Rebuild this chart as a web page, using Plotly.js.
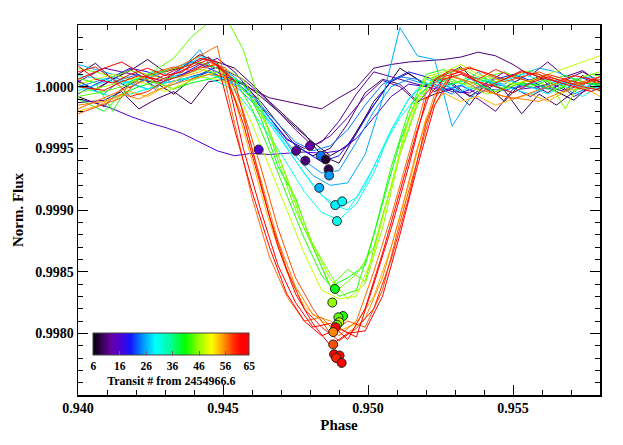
<!DOCTYPE html>
<html><head><meta charset="utf-8">
<script src="https://cdn.plot.ly/plotly-3.0.1.min.js"></script>
<style>html,body{margin:0;padding:0;background:#fff}</style>
</head><body><div id="chart" style="width:623px;height:445px"></div>
<script>
// Phase grids (two sampling grids)
const phaseA = [0.9400,0.9406,0.9412,0.9418,0.9424,0.9430,0.9436,0.9442,0.9448,0.9454,0.9460,0.9466,0.9472,0.9478,0.9484,0.9490,0.9496,0.9502,0.9508,0.9514,0.9520,0.9526,0.9532,0.9538,0.9544,0.9550,0.9556,0.9562,0.9568,0.9574,0.9580,0.9586];
const phaseB = [0.9400,0.9409,0.9415,0.9421,0.9427,0.9433,0.9439,0.9445,0.9451,0.9457,0.9463,0.9469,0.9475,0.9481,0.9487,0.9493,0.9499,0.9505,0.9511,0.9517,0.9523,0.9529,0.9535,0.9541,0.9547,0.9553,0.9559,0.9565,0.9571,0.9577,0.9583,0.9589];

// Flux deviations (parts per million from 1.0) for each transit light curve
const devT08 = [-80,-160,-20,60,30,-60,60,120,70,30,-80,-200,-330,-450,-560,-480,-250,-50,150,60,-40,30,-80,10,-120,30,80,-40,-110,20,60,-20];
const devT09 = [100,190,60,130,220,120,160,260,200,150,20,-120,-250,-380,-560,-620,-380,-120,40,110,10,90,160,20,-60,30,110,40,-30,90,20,70];
const devT10 = [-130,-110,-40,-180,-100,-40,-140,40,60,20,-120,-300,-480,-560,-500,-300,-50,60,20,-120,-60,-20,-150,40,-30,-220,-60,-150,-40,60,-90,-30];
const devT11 = [40,-20,60,140,50,30,60,100,160,50,-20,-90,-120,-150,-180,-90,-10,150,180,200,210,220,240,280,250,180,90,200,80,130,30,60];
const devT12 = [50,-30,60,-10,80,40,100,160,230,120,-50,-250,-430,-500,-450,-280,-60,120,80,40,0,70,-40,-100,-200,-20,30,-50,50,120,40,0];
const devT13 = [40,150,120,90,-10,110,200,170,130,60,-60,-200,-350,-480,-400,-250,-80,50,0,-130,20,-40,-50,30,120,-20,0,40,-80,-10,30,60];
const devT16 = [-100,-130,-180,-240,-290,-330,-380,-450,-520,-560,-540,-550,-540,-530,-540,-520,-420,-250,-80,20,0,-30,10,-60,20,-10,-80,0,-40,30,10,-20];
const devT20 = [-60,20,80,150,120,60,100,180,120,50,-80,-250,-420,-520,-610,-560,-380,-150,50,120,80,20,-50,0,60,100,50,-20,30,70,20,-10];
const devT24 = [20,-60,60,100,-30,20,80,120,60,-20,-150,-300,-450,-520,-480,-350,-150,20,80,60,0,-60,70,-20,-30,10,-20,50,-60,0,-40,10];
const devT25 = [0,40,80,30,-20,40,150,300,80,10,-120,-280,-450,-600,-700,-680,-450,-200,0,60,20,-20,10,120,0,-50,20,60,30,-10,40,0];
const devT26 = [180,120,80,40,100,150,200,240,130,20,-150,-350,-560,-720,-800,-780,-550,-100,480,250,220,-320,-100,40,20,100,150,120,60,80,30,0];
const devT29 = [-30,10,60,20,-20,40,120,250,180,60,-100,-300,-500,-700,-880,-980,-900,-650,-350,-100,60,20,-40,30,80,40,0,-60,20,-80,10,30];
const devT30 = [90,60,20,70,130,80,50,100,60,-20,-180,-380,-600,-800,-950,-1000,-800,-500,-250,-80,40,60,-20,0,50,100,60,30,-30,0,40,-60];
const devT31 = [0,-40,-80,-60,-20,30,60,90,40,-30,-200,-400,-620,-850,-1020,-1080,-950,-700,-350,-100,30,0,40,80,30,-20,-60,0,40,10,-30,0];
const devT40 = [-100,-200,-60,0,40,-20,30,60,100,20,-250,-650,-900,-1300,-1620,-1550,-1450,-950,-450,-80,60,20,80,40,-20,30,10,-40,60,20,0,40];
const devT42 = [70,30,-200,40,90,130,160,200,150,60,-180,-520,-880,-1230,-1530,-1700,-1650,-1200,-650,-200,100,140,60,20,-40,30,0,50,90,40,20,60];
const devT44 = [-80,-40,0,60,140,230,400,520,560,300,-150,-600,-1000,-1300,-1620,-1480,-1580,-1050,-550,-150,80,40,20,80,120,60,30,-20,50,100,70,40];
const devT45 = [150,120,80,130,100,60,90,140,110,40,-100,-350,-750,-1150,-1400,-1640,-1520,-1300,-800,-250,60,100,150,80,40,90,130,60,-180,80,120,90];
const devT46 = [-50,0,40,80,30,-20,50,100,140,60,-200,-550,-920,-1280,-1560,-1720,-1600,-1150,-550,-120,90,60,0,-60,-20,40,60,20,-30,0,-80,-40];
const devT48 = [20,60,100,60,20,-40,20,80,60,0,-300,-650,-1000,-1350,-1650,-1720,-1700,-1350,-800,-280,80,120,180,100,60,20,50,100,150,200,250,220];
const devT54 = [-200,-160,-100,-40,-80,0,80,120,200,-100,-600,-1100,-1500,-1780,-1900,-1980,-1920,-1700,-1300,-800,-250,-50,-120,-80,-150,-100,-60,-120,-40,0,-80,-50];
const devT56 = [-150,-120,-60,-100,-30,20,60,100,80,-250,-750,-1250,-1620,-1850,-1900,-2000,-1880,-1550,-1050,-500,-60,80,40,-30,-80,-100,-120,-60,0,40,20,-20];
const devT57 = [-180,-120,-60,0,60,120,180,250,330,-300,-900,-1380,-1700,-1900,-1870,-2020,-1900,-1500,-1050,-550,-50,100,60,-20,-60,-100,-50,0,50,30,60,20];
const devT58 = [-220,-140,-90,60,120,160,130,200,150,-200,-650,-1150,-1550,-1800,-2000,-1900,-1950,-1650,-1100,-600,-100,120,160,100,40,80,120,60,20,60,100,40];
const devT60 = [120,160,60,-80,-40,50,90,150,180,50,-500,-1050,-1480,-1800,-1950,-2060,-1960,-1800,-1400,-900,-300,80,120,60,140,80,40,100,60,20,80,50];
const devT62 = [60,150,200,120,40,100,160,220,120,-500,-1000,-1450,-1750,-1950,-1920,-2050,-1800,-1350,-850,-350,60,140,80,0,60,120,100,40,0,-40,20,60];
const devT63 = [170,60,30,100,150,90,120,230,200,-350,-850,-1300,-1680,-1900,-2020,-1960,-2030,-1600,-1150,-650,-100,60,100,40,0,-50,30,80,40,0,-30,10];
const devT65 = [0,-30,40,90,60,130,180,240,100,-300,-800,-1300,-1680,-1920,-2100,-2000,-1980,-1700,-1200,-650,-150,100,150,110,60,130,80,40,90,60,20,70];

// Transit number and sampling grid for each curve
const lineTransit = [8,9,10,11,12,13,16,20,24,25,26,29,30,31,40,42,44,45,46,48,54,56,57,58,60,62,63,65];
const lineGrid    = ['B','A','B','A','A','B','A','A','B','A','B','A','B','A','B','A','B','A','B','A','A','B','A','B','A','B','A','B'];
const lineDev     = [devT08,devT09,devT10,devT11,devT12,devT13,devT16,devT20,devT24,devT25,devT26,devT29,devT30,devT31,devT40,devT42,devT44,devT45,devT46,devT48,devT54,devT56,devT57,devT58,devT60,devT62,devT63,devT65];

// Mid-transit markers
const mkPhase   = [0.94623,0.94752,0.94800,0.94784,0.94837,0.94854,0.94864,0.94866,0.94832,0.94887,0.94911,0.94893,0.94886,0.94877,0.94914,0.94898,0.94901,0.94893,0.94888,0.94880,0.94880,0.94883,0.94902,0.94890,0.94909];
const mkFlux    = [0.99949,0.99948,0.99952,0.99940,0.99944,0.99941,0.99933,0.99928,0.99918,0.99904,0.99907,0.99891,0.99836,0.99825,0.99814,0.99813,0.99809,0.99807,0.99805,0.99801,0.99791,0.99783,0.99782,0.99780,0.99776];
const mkTransit = [16,12,13,11,24,8,9,25,26,29,30,31,40,46,42,44,48,45,62,56,58,63,64,60,65];

const cbTicks = [6,16,26,36,46,56,65];
const xTicks = [0.940,0.945,0.950,0.955];
const yTicks = [0.9980,0.9985,0.9990,0.9995,1.0000];

const cmin = 6, cmax = 65;
const cscale = [
  [0.00,'#000000'],[0.06,'#3c0058'],[0.12,'#6400a8'],[0.18,'#4a00d8'],[0.24,'#1414ff'],
  [0.32,'#0094ff'],[0.40,'#00ffff'],[0.50,'#00ff96'],[0.59,'#00ff00'],
  [0.68,'#96ff00'],[0.76,'#ffff00'],[0.83,'#ffa000'],[0.90,'#ff3000'],
  [0.95,'#ff0000'],[1.00,'#ff0000']
];
function hex2rgb(h){return [parseInt(h.substr(1,2),16),parseInt(h.substr(3,2),16),parseInt(h.substr(5,2),16)];}
function colorFor(v){
  let f=(v-cmin)/(cmax-cmin); f=Math.max(0,Math.min(1,f));
  for(let i=1;i<cscale.length;i++){
    if(f<=cscale[i][0]){
      const a=cscale[i-1],b=cscale[i];
      const t=(f-a[0])/(b[0]-a[0]||1);
      const ca=hex2rgb(a[1]),cb=hex2rgb(b[1]);
      const c=ca.map((x,k)=>Math.round(x+(cb[k]-x)*t));
      return 'rgb('+c.join(',')+')';
    }
  }
  return cscale[cscale.length-1][1];
}

const FONT = 'Liberation Serif, Times New Roman, serif';
const traces = [];
for(let i=0;i<lineTransit.length;i++){
  const xs = lineGrid[i]==='A'?phaseA:phaseB;
  traces.push({
    type:'scatter', mode:'lines', x:xs, y:lineDev[i].map(d=>1+d*1e-6),
    line:{color:colorFor(lineTransit[i]), width:1}, hoverinfo:'skip', showlegend:false
  });
}
traces.push({
  type:'scatter', mode:'markers', x:mkPhase, y:mkFlux, showlegend:false,
  marker:{size:9, color:mkTransit, colorscale:cscale, cmin:cmin, cmax:cmax,
    line:{color:'#222', width:1}, showscale:true,
    colorbar:{orientation:'h', x:0.0293, xanchor:'left', y:0.1668, yanchor:'top',
      len:0.2994, lenmode:'fraction', thickness:22, thicknessmode:'pixels',
      xpad:0, ypad:0, outlinewidth:1, outlinecolor:'#444',
      tickmode:'array', tickvals:cbTicks, ticktext:cbTicks.map(String),
      ticks:'inside', ticklen:4, tickcolor:'#666',
      tickfont:{family:FONT, size:11.5, weight:'bold', color:'#000'},
      title:{text:'Transit # from 2454966.6', side:'bottom', font:{family:FONT, size:12, weight:'bold', color:'#000'}}
    }
  }
});

const layout = {
  width:623, height:445,
  margin:{l:78, r:23, t:25, b:50},
  paper_bgcolor:'#fff', plot_bgcolor:'#fff',
  font:{family:FONT, size:14, weight:'bold', color:'#000'},
  xaxis:{range:[0.940,0.958], tickmode:'array', tickvals:xTicks, ticktext:xTicks.map(v=>v.toFixed(3)),
    ticks:'inside', ticklen:10, tickwidth:1, tickcolor:'#000', mirror:'allticks',
    showline:true, linecolor:'#000', linewidth:1.5, showgrid:false, zeroline:false,
    minor:{dtick:0.001, tick0:0.940, ticks:'inside', ticklen:5, tickwidth:1, tickcolor:'#000'},
    tickfont:{family:FONT, size:14, weight:'bold'},
    title:{text:'Phase', font:{family:FONT, size:15, weight:'bold'}, standoff:4}},
  yaxis:{range:[0.9975,1.0005], tickmode:'array', tickvals:yTicks, ticktext:yTicks.map(v=>v.toFixed(4)),
    ticks:'inside', ticklen:10, tickwidth:1, tickcolor:'#000', mirror:'allticks',
    showline:true, linecolor:'#000', linewidth:1.5, showgrid:false, zeroline:false,
    minor:{dtick:0.0001, tick0:0.9975, ticks:'inside', ticklen:5, tickwidth:1, tickcolor:'#000'},
    tickfont:{family:FONT, size:14, weight:'bold'},
    title:{text:'Norm. Flux', font:{family:FONT, size:15, weight:'bold'}, standoff:8}}
};
Plotly.newPlot('chart', traces, layout, {staticPlot:true, displayModeBar:false});
</script></body></html>
